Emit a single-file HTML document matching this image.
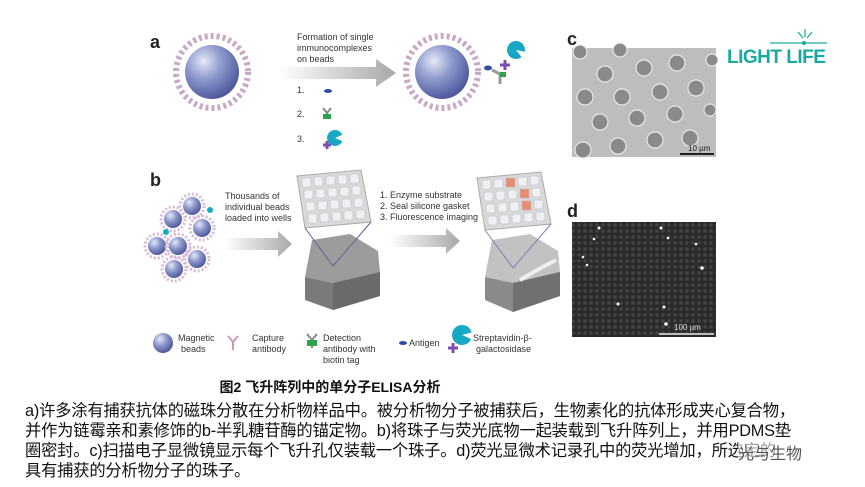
<!DOCTYPE html>
<html><head><meta charset="utf-8"><style>
body{margin:0;width:865px;height:487px;background:#fff;overflow:hidden;position:relative;font-family:"Liberation Sans",sans-serif}
.cap{position:absolute;left:25px;font-family:"Liberation Sans","Noto Sans CJK SC",sans-serif;font-size:16.3px;color:#111;white-space:nowrap;letter-spacing:-0.2px}
</style></head><body>
<svg width="865" height="487" style="position:absolute;left:0;top:0" font-family="Liberation Sans, sans-serif">
<defs>
<radialGradient id="bd" cx="0.35" cy="0.3" r="0.75"><stop offset="0" stop-color="#e4e8f6"/><stop offset="0.45" stop-color="#8d98cc"/><stop offset="1" stop-color="#4a5498"/></radialGradient>
<linearGradient id="ar" x1="0" x2="1"><stop offset="0" stop-color="#fff"/><stop offset="1" stop-color="#a8a8a8"/></linearGradient>
<pattern id="pk" width="6" height="6" patternUnits="userSpaceOnUse"><circle cx="3" cy="3" r="1.8" fill="#555"/></pattern>
</defs>
<text x="150" y="48" font-size="18" font-weight="bold" fill="#222">a</text>
<circle cx="212" cy="72" r="36" fill="none" stroke="#c9a8c6" stroke-width="6" stroke-dasharray="3 3"/>
<circle cx="212" cy="72" r="27" fill="url(#bd)"/>
<text x="297" y="40" font-size="9" fill="#333">Formation of single</text>
<text x="297" y="51" font-size="9" fill="#333">immunocomplexes</text>
<text x="297" y="62" font-size="9" fill="#333">on beads</text>
<polygon points="280,67 376,67 376,59 396,73 376,87 376,79 280,79" fill="url(#ar)"/>
<text x="297" y="93" font-size="9" fill="#333">1.</text><ellipse cx="328" cy="91" rx="4" ry="2" fill="#2a4fa0"/>
<text x="297" y="117" font-size="9" fill="#333">2.</text><path d="M323,108 l4,5 4,-5 M327,113 v6" stroke="#888" stroke-width="2" fill="none"/><rect x="323" y="114" width="8" height="5" fill="#2ca24a"/>
<text x="297" y="142" font-size="9" fill="#333">3.</text><circle cx="335" cy="138" r="8" fill="#19a8c4"/><path d="M335,138 l9,-4 v8z" fill="#fff"/><path d="M323,145 h8 M327,141 v8" stroke="#7a4fb0" stroke-width="3"/>
<circle cx="442" cy="72" r="36" fill="none" stroke="#c9a8c6" stroke-width="6" stroke-dasharray="3 3"/>
<circle cx="442" cy="72" r="27" fill="url(#bd)"/>
<ellipse cx="488" cy="68" rx="4" ry="2.5" fill="#2a4fa0"/><path d="M492,70 l8,4 v10" stroke="#999" stroke-width="3" fill="none"/><rect x="500" y="72" width="6" height="5" fill="#2ca24a"/>
<path d="M505,60 v10 M500,65 h10" stroke="#7a4fb0" stroke-width="3"/><circle cx="516" cy="50" r="9" fill="#19a8c4"/><path d="M516,50 l10,2 -3,7z" fill="#fff"/>
<text x="150" y="186" font-size="18" font-weight="bold" fill="#222">b</text>
<g>
<circle cx="192" cy="206" r="12" fill="none" stroke="#d8b8d6" stroke-width="3" stroke-dasharray="2 2"/><circle cx="192" cy="206" r="9" fill="url(#bd)"/>
<circle cx="173" cy="219" r="12" fill="none" stroke="#d8b8d6" stroke-width="3" stroke-dasharray="2 2"/><circle cx="173" cy="219" r="9" fill="url(#bd)"/>
<circle cx="202" cy="228" r="12" fill="none" stroke="#d8b8d6" stroke-width="3" stroke-dasharray="2 2"/><circle cx="202" cy="228" r="9" fill="url(#bd)"/>
<circle cx="157" cy="246" r="12" fill="none" stroke="#d8b8d6" stroke-width="3" stroke-dasharray="2 2"/><circle cx="157" cy="246" r="9" fill="url(#bd)"/>
<circle cx="178" cy="246" r="12" fill="none" stroke="#d8b8d6" stroke-width="3" stroke-dasharray="2 2"/><circle cx="178" cy="246" r="9" fill="url(#bd)"/>
<circle cx="197" cy="259" r="12" fill="none" stroke="#d8b8d6" stroke-width="3" stroke-dasharray="2 2"/><circle cx="197" cy="259" r="9" fill="url(#bd)"/>
<circle cx="174" cy="269" r="12" fill="none" stroke="#d8b8d6" stroke-width="3" stroke-dasharray="2 2"/><circle cx="174" cy="269" r="9" fill="url(#bd)"/>
<circle cx="210" cy="210" r="3" fill="#19a8c4"/><circle cx="166" cy="232" r="3" fill="#19a8c4"/>
</g>
<text x="225" y="199" font-size="9" fill="#333">Thousands of</text>
<text x="225" y="210" font-size="9" fill="#333">individual beads</text>
<text x="225" y="221" font-size="9" fill="#333">loaded into wells</text>
<polygon points="225,238 278,238 278,231 292,244 278,257 278,250 225,250" fill="url(#ar)"/>
<text x="380" y="198" font-size="9" fill="#333">1. Enzyme substrate</text>
<text x="380" y="209" font-size="9" fill="#333">2. Seal silicone gasket</text>
<text x="380" y="220" font-size="9" fill="#333">3. Fluorescence imaging</text>
<polygon points="390,235 446,235 446,228 460,241 446,254 446,247 390,247" fill="url(#ar)"/>
<polygon points="305,277 312,240 350,234 378,251 380,272 333,283" fill="#9c9c9c"/>
<polygon points="305,277 333,283 380,272 380,296 333,310 305,300" fill="#7a7a7a"/>
<polygon points="333,283 380,272 380,296 333,310" fill="#6a6a6a"/>
<polygon points="297,176 361,170 371,222 305,228" fill="#d9d9dc" stroke="#aaa"/>
<g fill="#eef0f4" stroke="#bbb" stroke-width="0.6">
<rect x="302" y="178" width="9" height="9" rx="2"/><rect x="314" y="177" width="9" height="9" rx="2"/><rect x="326" y="176" width="9" height="9" rx="2"/><rect x="338" y="175" width="9" height="9" rx="2"/><rect x="350" y="174" width="9" height="9" rx="2"/>
<rect x="304" y="190" width="9" height="9" rx="2"/><rect x="316" y="189" width="9" height="9" rx="2"/><rect x="328" y="188" width="9" height="9" rx="2"/><rect x="340" y="187" width="9" height="9" rx="2"/><rect x="352" y="186" width="9" height="9" rx="2"/>
<rect x="306" y="202" width="9" height="9" rx="2"/><rect x="318" y="201" width="9" height="9" rx="2"/><rect x="330" y="200" width="9" height="9" rx="2"/><rect x="342" y="199" width="9" height="9" rx="2"/><rect x="354" y="198" width="9" height="9" rx="2"/>
<rect x="308" y="214" width="9" height="9" rx="2"/><rect x="320" y="213" width="9" height="9" rx="2"/><rect x="332" y="212" width="9" height="9" rx="2"/><rect x="344" y="211" width="9" height="9" rx="2"/><rect x="356" y="210" width="9" height="9" rx="2"/>
</g>
<path d="M305,228 L333,266 L371,222" stroke="#6a5c9c" fill="none"/>
<polygon points="485,277 492,240 530,234 558,251 560,272 513,283" fill="#c2c2c2"/>
<polygon points="485,277 513,283 560,272 560,296 513,312 485,300" fill="#8a8a8a"/>
<polygon points="513,283 560,272 560,296 513,312" fill="#707070"/>
<path d="M520,280 Q540,268 556,260" stroke="#eee" stroke-width="4" fill="none"/>
<polygon points="477,178 541,172 551,224 485,230" fill="#d9d9dc" stroke="#aaa"/>
<g fill="#eef0f4" stroke="#bbb" stroke-width="0.6">
<rect x="482" y="180" width="9" height="9" rx="2"/><rect x="494" y="179" width="9" height="9" rx="2"/><rect x="506" y="178" width="9" height="9" fill="#e78c70"/><rect x="518" y="177" width="9" height="9" rx="2"/><rect x="530" y="176" width="9" height="9" rx="2"/>
<rect x="484" y="192" width="9" height="9" rx="2"/><rect x="496" y="191" width="9" height="9" rx="2"/><rect x="508" y="190" width="9" height="9" rx="2"/><rect x="520" y="189" width="9" height="9" fill="#e78c70"/><rect x="532" y="188" width="9" height="9" rx="2"/>
<rect x="486" y="204" width="9" height="9" rx="2"/><rect x="498" y="203" width="9" height="9" rx="2"/><rect x="510" y="202" width="9" height="9" rx="2"/><rect x="522" y="201" width="9" height="9" fill="#e78c70"/><rect x="534" y="200" width="9" height="9" rx="2"/>
<rect x="488" y="216" width="9" height="9" rx="2"/><rect x="500" y="215" width="9" height="9" rx="2"/><rect x="512" y="214" width="9" height="9" rx="2"/><rect x="524" y="213" width="9" height="9" rx="2"/><rect x="536" y="212" width="9" height="9" rx="2"/>
</g>
<path d="M485,230 L513,268 L551,224" stroke="#8a7cb0" fill="none"/>
<circle cx="163" cy="343" r="10" fill="url(#bd)"/>
<text x="178" y="341" font-size="9" fill="#333">Magnetic</text><text x="181" y="352" font-size="9" fill="#333">beads</text>
<path d="M228,336 l5,6 5,-6 M233,342 v8" stroke="#c79bc0" stroke-width="2" fill="none"/>
<text x="252" y="341" font-size="9" fill="#333">Capture</text><text x="252" y="352" font-size="9" fill="#333">antibody</text>
<path d="M307,334 l5,6 5,-6 M312,340 v8" stroke="#888" stroke-width="2" fill="none"/><rect x="307" y="340" width="10" height="6" fill="#2ca24a"/>
<text x="323" y="341" font-size="9" fill="#333">Detection</text><text x="323" y="352" font-size="9" fill="#333">antibody with</text><text x="323" y="363" font-size="9" fill="#333">biotin tag</text>
<ellipse cx="403" cy="343" rx="4" ry="2" fill="#2a4fa0"/><text x="409" y="346" font-size="9" fill="#333">Antigen</text>
<circle cx="462" cy="335" r="10" fill="#19a8c4"/><path d="M462,335 l11,-3 v8z" fill="#fff"/><path d="M448,348 h10 M453,343 v10" stroke="#7a4fb0" stroke-width="3"/>
<text x="473" y="341" font-size="9" fill="#333">Streptavidin-β-</text><text x="476" y="352" font-size="9" fill="#333">galactosidase</text>
<text x="567" y="45" font-size="18" font-weight="bold" fill="#222">c</text>
<rect x="572" y="48" width="144" height="109" fill="#bdbdbd"/>
<g fill="#8a8a8a" stroke="#e8e8e8" stroke-width="1.2">
<circle cx="580" cy="52" r="7"/><circle cx="620" cy="50" r="7"/><circle cx="605" cy="74" r="8"/><circle cx="644" cy="68" r="8"/><circle cx="677" cy="63" r="8"/><circle cx="712" cy="60" r="6"/>
<circle cx="585" cy="97" r="8"/><circle cx="622" cy="97" r="8"/><circle cx="660" cy="92" r="8"/><circle cx="696" cy="88" r="8"/>
<circle cx="600" cy="122" r="8"/><circle cx="637" cy="118" r="8"/><circle cx="675" cy="114" r="8"/><circle cx="710" cy="110" r="6"/>
<circle cx="583" cy="150" r="8"/><circle cx="618" cy="146" r="8"/><circle cx="655" cy="140" r="8"/><circle cx="690" cy="138" r="8"/>
</g>
<rect x="680" y="153" width="34" height="2" fill="#222"/><text x="688" y="151" font-size="8" fill="#222">10 µm</text>
<text x="567" y="217" font-size="18" font-weight="bold" fill="#222">d</text>
<rect x="572" y="222" width="144" height="115" fill="#2a2a2a"/>
<rect x="572" y="222" width="144" height="115" fill="url(#pk)" opacity="0.6"/>
<g fill="#fff"><circle cx="599" cy="228" r="1.5"/><circle cx="661" cy="228" r="1.5"/><circle cx="594" cy="239" r="1.3"/><circle cx="668" cy="238" r="1.3"/><circle cx="696" cy="244" r="1.3"/><circle cx="583" cy="257" r="1.3"/><circle cx="587" cy="265" r="1.3"/><circle cx="702" cy="268" r="1.8"/><circle cx="618" cy="304" r="1.5"/><circle cx="664" cy="307" r="1.5"/><circle cx="666" cy="324" r="1.8"/></g>
<rect x="659" y="333" width="55" height="2" fill="#bbb"/><text x="674" y="330" font-size="8" fill="#ddd">100 µm</text>
<text x="727" y="63" font-size="19" font-weight="bold" fill="#1aa9a0" letter-spacing="-0.5">LIGHT LIFE</text>
<path d="M770,43 h57 M803,38 l-5,-6 M805,37 v-8 M807,38 l5,-6" stroke="#1aa9a0" stroke-width="1.2"/><circle cx="804" cy="43" r="2" fill="#1aa9a0"/>
</svg>
<div style="position:absolute;left:0;width:660px;top:377px;text-align:center;font-family:'Liberation Sans','Noto Sans CJK SC',sans-serif;font-weight:bold;font-size:14px;color:#111">图2 飞升阵列中的单分子ELISA分析</div>
<div class="cap" style="top:397px">a)许多涂有捕获抗体的磁珠分散在分析物样品中。被分析物分子被捕获后，生物素化的抗体形成夹心复合物，</div>
<div class="cap" style="top:417px">并作为链霉亲和素修饰的b-半乳糖苷酶的锚定物。b)将珠子与荧光底物一起装载到飞升阵列上，并用PDMS垫</div>
<div class="cap" style="top:437px">圈密封。c)扫描电子显微镜显示每个飞升孔仅装载一个珠子。d)荧光显微术记录孔中的荧光增加，所选定的</div>
<div class="cap" style="top:457px">具有捕获的分析物分子的珠子。</div>
<div style="position:absolute;left:738px;top:440px;font-family:'Noto Sans CJK SC',sans-serif;font-size:16px;color:#555;background:rgba(255,255,255,0.6)">光与生物</div>
</body></html>
